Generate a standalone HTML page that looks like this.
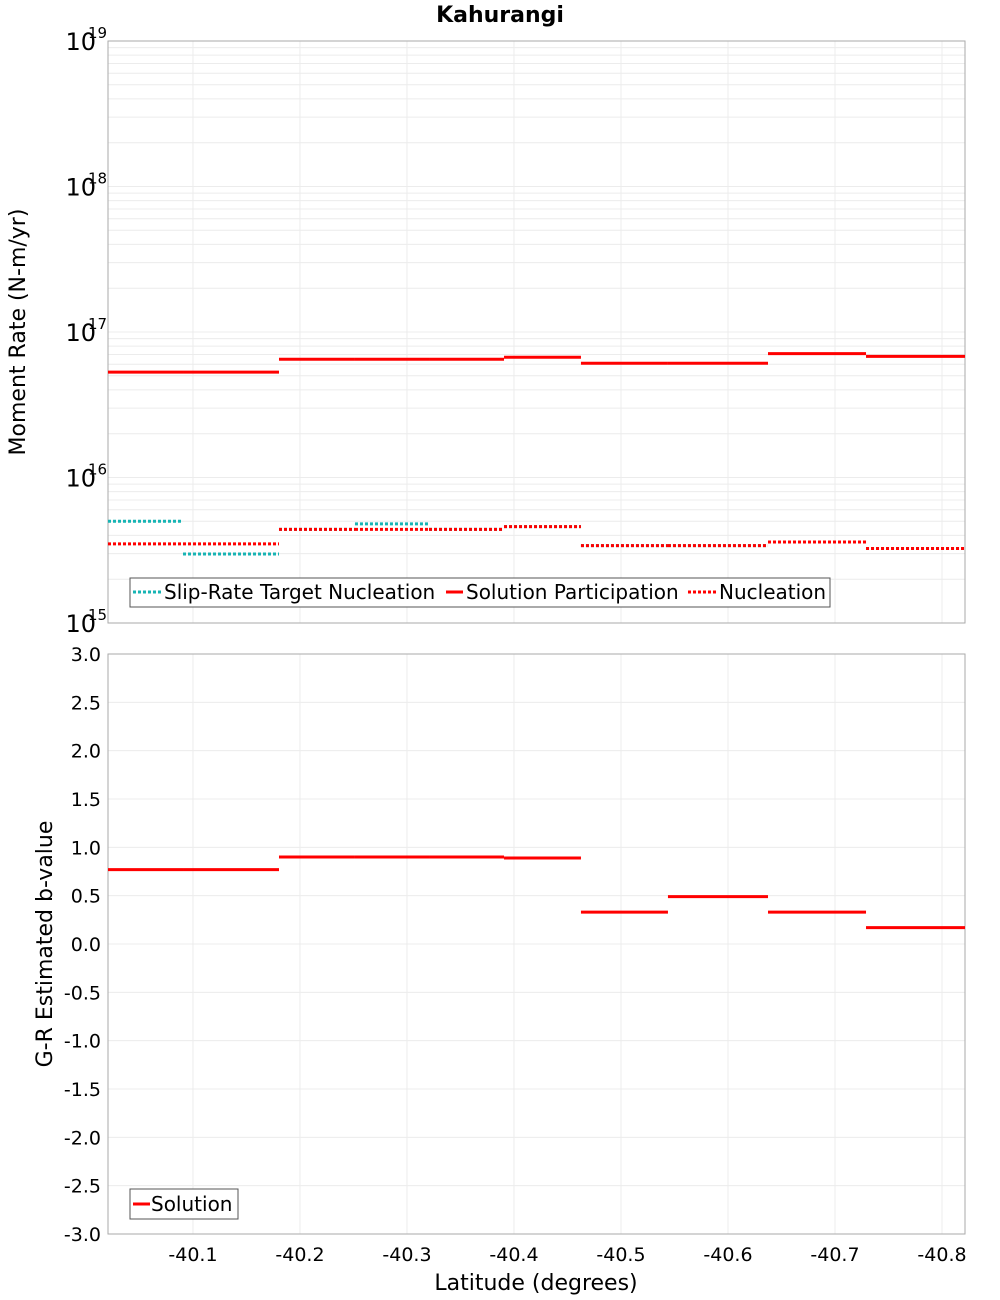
<!DOCTYPE html>
<html><head><meta charset="utf-8"><style>
body{margin:0;background:#fff}
svg{display:block;font-family:"DejaVu Sans","Liberation Sans",sans-serif}
</style></head><body>
<svg id="c" width="1000" height="1300" xmlns="http://www.w3.org/2000/svg">
<text x="500" y="22" text-anchor="middle" font-size="22" font-weight="bold">Kahurangi</text>
<g id="topPanel"></g>
<g id="botPanel"></g>
<text transform="translate(25,332) rotate(-90)" text-anchor="middle" font-size="22">Moment Rate (N-m/yr)</text>
<text transform="translate(52,944) rotate(-90)" text-anchor="middle" font-size="22">G-R Estimated b-value</text>
<text x="536" y="1290" text-anchor="middle" font-size="22">Latitude (degrees)</text>
</svg>
<script>
const bounds=[-40.0206,-40.0907,-40.1804,-40.2514,-40.3206,-40.3907,-40.4626,-40.5439,-40.6374,-40.7290,-40.8215];
const participation=[5.3e16,5.3e16,6.5e16,6.5e16,6.5e16,6.7e16,6.1e16,6.1e16,7.1e16,6.8e16];
const nucleation=[3.5e15,3.5e15,4.4e15,4.4e15,4.4e15,4.6e15,3.4e15,3.4e15,3.6e15,3.25e15];
const target=[5.0e15,2.98e15,4.4e15,4.8e15,4.4e15,4.6e15,3.4e15,3.4e15,3.6e15,3.25e15];
const bvalue=[0.77,0.77,0.90,0.90,0.90,0.89,0.33,0.49,0.33,0.17];
const xTicks=[-40.1,-40.2,-40.3,-40.4,-40.5,-40.6,-40.7,-40.8];
const decades=[15,16,17,18,19];
const bTicks=[3.0,2.5,2.0,1.5,1.0,0.5,0.0,-0.5,-1.0,-1.5,-2.0,-2.5,-3.0];

const NS="http://www.w3.org/2000/svg";
const L=108,R=965,T1=41,B1=623,T2=654,B2=1234;
const xs=v=>L+(-40.0206-v)/(0.8009)*(R-L);
const ys1=v=>B1-(Math.log10(v)-15)/4*(B1-T1);
const ys2=v=>B2-(v+3)/6*(B2-T2);
function mk(p,tag,a){const e=document.createElementNS(NS,tag);for(const k in a)e.setAttribute(k,a[k]);p.appendChild(e);return e;}
const gTop=document.getElementById('topPanel'),gBot=document.getElementById('botPanel');

for(let d=15;d<19;d++)for(let m=1;m<10;m++){const y=ys1(m*Math.pow(10,d));
 const g=mk(gTop,'line',{x1:L,x2:R,y1:y,y2:y,stroke:'#ececec','stroke-width':1});
 
 }
for(const t of xTicks){for(const [p,a,b] of [[gTop,T1,B1],[gBot,T2,B2]]){const g=mk(p,'line',{x1:xs(t),x2:xs(t),y1:a,y2:b,stroke:'#ececec','stroke-width':1});
 
 }}
for(const t of bTicks){const g=mk(gBot,'line',{x1:L,x2:R,y1:ys2(t),y2:ys2(t),stroke:'#ececec','stroke-width':1});
 
 }
let f=mk(gTop,'rect',{x:L,y:T1,width:R-L,height:B1-T1,fill:'none',stroke:'#aaa','stroke-width':1});


f=mk(gBot,'rect',{x:L,y:T2,width:R-L,height:B2-T2,fill:'none',stroke:'#aaa','stroke-width':1});


for(const d of decades){const y=ys1(Math.pow(10,d));
 const t=mk(gTop,'text',{x:96,y:y+9,'text-anchor':'end','font-size':24});t.textContent='10';
 
 
 const s=mk(gTop,'text',{x:88,y:y-3,'font-size':15});s.textContent=String(d);
 
 }
for(const t of bTicks){const e=mk(gBot,'text',{x:101,y:ys2(t)+7,'text-anchor':'end','font-size':19});e.textContent=t.toFixed(1);
 
 }
for(const t of xTicks){const e=mk(gBot,'text',{x:xs(t),y:1261,'text-anchor':'middle','font-size':19});e.textContent=t.toFixed(1);
 
 }
function steps(p,vals,ys,color,dash,name){for(let i=0;i<vals.length;i++){const y=ys(vals[i]);
 const a={x1:xs(bounds[i]),x2:xs(bounds[i+1]),y1:y,y2:y,stroke:color,'stroke-width':3};if(dash)a['stroke-dasharray']='3,2';
 const e=mk(p,'line',a);
 
 }}
steps(gTop,target,ys1,'#17b4b4',true,'target-nucleation-segment');
steps(gTop,nucleation,ys1,'#ff0000',true,'nucleation-segment');
steps(gTop,participation,ys1,'#ff0000',false,'participation-segment');
steps(gBot,bvalue,ys2,'#ff0000',false,'b-value-segment');
let lg=mk(gTop,'rect',{x:130,y:578,width:700,height:29,fill:'#fff',stroke:'#555','stroke-width':1});


const items=[[133,28,'#17b4b4',true,'Slip-Rate Target Nucleation'],[446,17,'#ff0000',false,'Solution Participation'],[688,28,'#ff0000',true,'Nucleation']];
for(const [x,w,c,d,txt] of items){const a={x1:x,x2:x+w,y1:592,y2:592,stroke:c,'stroke-width':3};if(d)a['stroke-dasharray']='3,2';
 const l=mk(gTop,'line',a);
 
 
 const t=mk(gTop,'text',{x:x+w+3,y:599,'font-size':20});t.textContent=txt;
 
 }
lg=mk(gBot,'rect',{x:130,y:1189,width:108,height:30,fill:'#fff',stroke:'#555','stroke-width':1});


let l2=mk(gBot,'line',{x1:133,x2:150,y1:1204,y2:1204,stroke:'#ff0000','stroke-width':3});


let t2=mk(gBot,'text',{x:151,y:1211,'font-size':20});t2.textContent='Solution';


</script>
</body></html>
